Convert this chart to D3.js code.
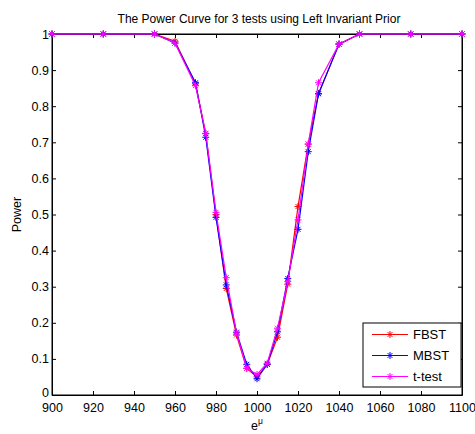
<!DOCTYPE html>
<html>
<head>
<meta charset="utf-8">
<script src="https://cdnjs.cloudflare.com/ajax/libs/d3/7.8.5/d3.min.js"></script>
<style>
  body { margin: 0; background: #fff; }
  text { font-family: "Liberation Sans", Arial, sans-serif; }
</style>
</head>
<body>
<div id="chart"></div>
<script>
// values
const xValues = [900, 925, 950, 960, 970, 975, 980, 985, 990, 995, 1000, 1005, 1010, 1015, 1020, 1025, 1030, 1040, 1050, 1075, 1100];
const fbst  = [1, 1, 1, 0.980, 0.862, 0.724, 0.500, 0.295, 0.166, 0.074, 0.050, 0.085, 0.160, 0.307, 0.522, 0.695, 0.835, 0.972, 1, 1, 1];
const mbst  = [1, 1, 1, 0.975, 0.865, 0.714, 0.492, 0.305, 0.174, 0.085, 0.045, 0.085, 0.175, 0.323, 0.459, 0.674, 0.834, 0.972, 1, 1, 1];
const ttest = [1, 1, 1, 0.975, 0.857, 0.725, 0.506, 0.325, 0.172, 0.074, 0.057, 0.088, 0.185, 0.314, 0.485, 0.695, 0.865, 0.972, 1, 1, 1];
const xTicks = d3.range(900, 1101, 20);
const yTicks = d3.range(0, 11).map(d => d / 10);

const series = [
    { name: "FBST", values: fbst, color: "#ff0000" },
    { name: "MBST", values: mbst, color: "#0000ff" },
    { name: "t-test", values: ttest, color: "#ff00ff" }
];

const W = 475, H = 434;
const margin = { top: 34, right: 13, bottom: 39, left: 52 },
    width = W - margin.left - margin.right,
    height = H - margin.top - margin.bottom;

const svg = d3.select("#chart").append("svg")
    .attr("width", W)
    .attr("height", H);
const g = svg.append("g").attr("transform", `translate(${margin.left},${margin.top})`);

const x = d3.scaleLinear().domain([900, 1100]).range([0, width]);
const y = d3.scaleLinear().domain([0, 1]).range([height, 0]);

// axes, matlab style: ticks inside, box on
const fmtY = d => d === 0 ? "0" : d === 1 ? "1" : d3.format(".1f")(d);
const tk = 4;
g.append("g").attr("transform", `translate(0,${height})`)
    .call(d3.axisBottom(x).tickValues(xTicks).tickSizeInner(-tk).tickSizeOuter(0).tickPadding(8).tickFormat(d3.format("d")));
g.append("g").call(d3.axisTop(x).tickValues(xTicks).tickSizeInner(-tk).tickSizeOuter(0).tickFormat(""));
const yAxis = g.append("g").call(d3.axisLeft(y).tickValues(yTicks).tickSizeInner(-tk).tickSizeOuter(0).tickPadding(3).tickFormat(fmtY));
g.append("g").attr("transform", `translate(${width},0)`)
    .call(d3.axisRight(y).tickValues(yTicks).tickSizeInner(-tk).tickSizeOuter(0).tickFormat(""));
g.selectAll(".domain").attr("stroke", "#000");
g.selectAll(".tick line").attr("stroke", "#000");
g.selectAll(".tick text").attr("font-size", 12.5).attr("fill", "#000");
// nudge the "0" up a touch so it clears the "900" below it
yAxis.selectAll(".tick text").filter(d => d === 0).attr("dy", "0.12em");

g.append("rect").attr("width", width).attr("height", height)
    .attr("fill", "none").attr("stroke", "#000");

// asterisk marker
const star = (sel, s) => {
    const r = s;
    sel.append("path")
        .attr("d", `M${-r},0H${r}M0,${-r}V${r}M${-r * 0.7},${-r * 0.7}L${r * 0.7},${r * 0.7}M${-r * 0.7},${r * 0.7}L${r * 0.7},${-r * 0.7}`);
};

const line = d3.line().x((d, i) => x(xValues[i])).y(d => y(d));

series.forEach(s => {
    const sg = g.append("g").attr("stroke", s.color).attr("fill", "none");
    sg.append("path").datum(s.values).attr("d", line).attr("stroke-width", 1.2);
    sg.selectAll("g.m").data(s.values).join("g")
        .attr("class", "m")
        .attr("transform", (d, i) => `translate(${x(xValues[i])},${y(d)})`)
        .call(star, 3.5);
});

// title and labels
svg.append("text").attr("x", margin.left + width / 2 + 2).attr("y", 23)
    .attr("text-anchor", "middle").attr("font-size", 12)
    .text("The Power Curve for 3 tests using Left Invariant Prior");

svg.append("text").attr("transform", `translate(21,${margin.top + height / 2}) rotate(-90)`)
    .attr("text-anchor", "middle").attr("font-size", 12.5).text("Power");

const xl = svg.append("text").attr("x", margin.left + width / 2).attr("y", 430)
    .attr("text-anchor", "middle").attr("font-size", 12.5);
xl.append("tspan").text("e");
xl.append("tspan").attr("dy", -6).attr("font-size", 8.5).text("\u03bc");

// legend
const lg = svg.append("g").attr("transform", "translate(363,323)");
lg.append("rect").attr("width", 98).attr("height", 64)
    .attr("fill", "#fff").attr("stroke", "#000");
series.forEach((s, i) => {
    const row = lg.append("g").attr("transform", `translate(0,${11.5 + i * 21})`);
    row.append("line").attr("x1", 9).attr("x2", 45).attr("stroke", s.color);
    row.append("g").attr("transform", "translate(27,0)").attr("stroke", s.color).call(star, 3.5);
    row.append("text").attr("x", 50).attr("dy", "0.35em").attr("font-size", 13).text(s.name);
});
</script>
</body>
</html>
